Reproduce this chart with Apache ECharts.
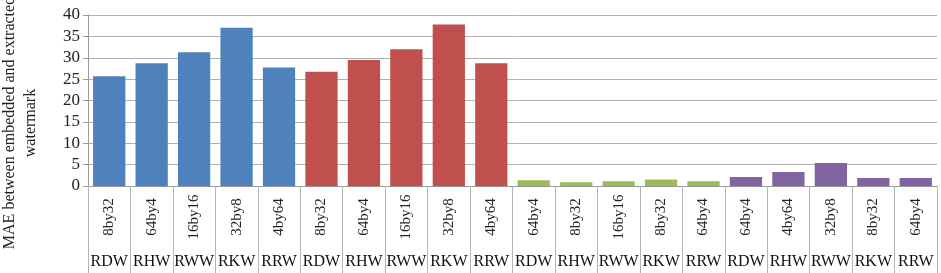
<!DOCTYPE html>
<html><head><meta charset="utf-8">
<script src="https://cdn.jsdelivr.net/npm/echarts@6/dist/echarts.min.js"></script>
<style>html,body{margin:0;padding:0;background:#fff}#c{width:941px;height:273px}</style>
</head><body><div id="c"></div>
<script>
var blockSizes = ['8by32','64by4','16by16','32by8','4by64','8by32','64by4','16by16','32by8','4by64','64by4','8by32','16by16','8by32','64by4','64by4','4by64','32by8','8by32','64by4'];
var methods = ['RDW','RHW','RWW','RKW','RRW','RDW','RHW','RWW','RKW','RRW','RDW','RHW','RWW','RKW','RRW','RDW','RHW','RWW','RKW','RRW'];
var maeValues = [25.7,28.7,31.3,37.0,27.7,26.7,29.5,32.0,37.8,28.7,1.35,0.9,1.1,1.5,1.1,2.1,3.3,5.4,1.9,1.9];
var groupIndex = [0,0,0,0,0,1,1,1,1,1,2,2,2,2,2,3,3,3,3,3];
var groupColors = ['#4F81BD','#C0504D','#9BBB59','#8064A2'];
var yTicks = [0,5,10,15,20,25,30,35,40];
var yTitle = 'MAE between embedded and extracted\nwatermark';

var font = "'Liberation Serif', 'Times New Roman', serif";
var chart = echarts.init(document.getElementById('c'));
chart.setOption({
  animation:false,
  grid:{left:88,right:4,top:15,bottom:87},
  xAxis:[{
    type:'category', data:blockSizes, position:'bottom',
    axisLine:{show:true,lineStyle:{color:'#9a9a9a',width:1}},
    axisTick:{show:true,interval:0,length:87,lineStyle:{color:'#b5b5b5'}},
    axisLabel:{interval:0,rotate:90,align:'center',verticalAlign:'middle',margin:31,
      fontFamily:font,fontSize:15,color:'#222'}
  },{
    type:'category', data:methods, position:'bottom', offset:60,
    axisLine:{show:false}, axisTick:{show:false},
    axisLabel:{interval:0,margin:8,fontFamily:font,fontSize:16,color:'#111'}
  }],
  yAxis:{
    type:'value', min:yTicks[0], max:yTicks[yTicks.length-1], interval:5,
    axisLine:{show:true,lineStyle:{color:'#9a9a9a'}},
    axisTick:{show:true,length:5,lineStyle:{color:'#9a9a9a'}},
    splitLine:{lineStyle:{color:'#b0b0b0',width:1}},
    axisLabel:{margin:8,fontFamily:font,fontSize:17,color:'#222'}
  },
  graphic:[{
    type:'text', x:20, y:123, rotation:Math.PI/2,
    style:{text:yTitle, textAlign:'center', textVerticalAlign:'middle',
      fontFamily:font, fontSize:16, fill:'#222', lineHeight:21}
  }],
  series:[{
    type:'bar', xAxisIndex:0, barCategoryGap:'24%',
    data:maeValues.map(function(v,i){return {value:v,itemStyle:{color:groupColors[groupIndex[i]]}};})
  }]
});
</script></body></html>
